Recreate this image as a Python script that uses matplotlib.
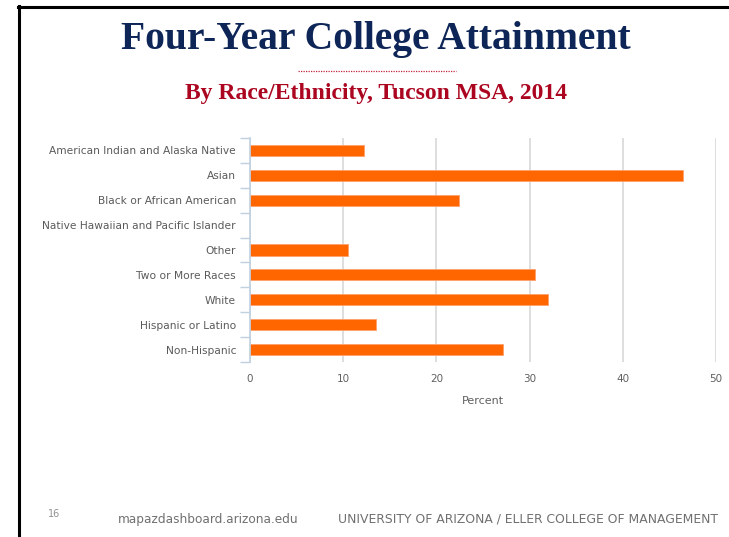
import matplotlib
matplotlib.use("Agg")
import matplotlib.pyplot as plt
from matplotlib.lines import Line2D

categories = [
    "American Indian and Alaska Native",
    "Asian",
    "Black or African American",
    "Native Hawaiian and Pacific Islander",
    "Other",
    "Two or More Races",
    "White",
    "Hispanic or Latino",
    "Non-Hispanic",
]
percent = [12.2, 46.5, 22.4, 0.0, 10.5, 30.6, 32.0, 13.5, 27.1]
x_ticks = [0, 10, 20, 30, 40, 50]

W, H = 729, 537
fig = plt.figure(figsize=(W / 100, H / 100), dpi=100)
fig.patch.set_facecolor("white")

# slide frame (top and left black borders)
fig.add_artist(Line2D([19 / W, 19 / W], [0, 1 - 6 / H], color="black", lw=2.2,
                      transform=fig.transFigure))
fig.add_artist(Line2D([18 / W, 1], [1 - 7 / H, 1 - 7 / H], color="black", lw=2.2,
                      transform=fig.transFigure))

# titles
fig.text(376 / W, 1 - 40 / H, "Four-Year College Attainment", ha="center", va="center",
         fontsize=28.5, fontweight="bold", family="Liberation Serif", color="#0E2557")
fig.add_artist(Line2D([298 / W, 456 / W], [1 - 71 / H, 1 - 71 / H], color="#C0243A",
                      lw=0.9, ls=(0, (1, 1)), transform=fig.transFigure))
fig.text(376 / W, 1 - 93 / H, "By Race/Ethnicity, Tucson MSA, 2014", ha="center", va="center",
         fontsize=17, fontweight="bold", family="Liberation Serif", color="#AB0520")

# chart
ax = fig.add_axes([250 / W, 1 - 362 / H, 466 / W, 224 / H])
ypos = list(range(len(categories)))
edges = [0.6 if v > 0 else 0 for v in percent]
ax.barh(ypos, percent, height=0.45, color="#FF6600", edgecolor="#FF9F6A", linewidth=edges,
        zorder=3)
ax.set_ylim(len(categories) - 0.5, -0.5)
ax.set_xlim(0, 50)
ax.set_xticks(x_ticks)
ax.set_xticklabels([str(t) for t in x_ticks])
ax.set_yticks(ypos)
ax.set_yticklabels(categories)
ax.set_yticks([i - 0.5 for i in range(len(categories) + 1)], minor=True)
ax.tick_params(axis="y", which="major", length=0, pad=10, labelsize=7.7, labelcolor="#5a5a5a")
ax.tick_params(axis="y", which="minor", length=7, color="#C0D0E0", width=1)
ax.tick_params(axis="x", length=0, pad=9, labelsize=7.5, labelcolor="#606060")
ax.grid(axis="x", color="#D8D8D8", lw=1.2, zorder=0)
for s in ["top", "right", "bottom"]:
    ax.spines[s].set_visible(False)
ax.spines["left"].set_color("#C0D0E0")
ax.spines["left"].set_linewidth(1.2)
ax.spines["left"].set_zorder(4)
ax.set_xlabel("Percent", fontsize=8, color="#606060", labelpad=8)

# footer
fig.text(48 / W, 1 - 514 / H, "16", fontsize=7, color="#909090", va="center")
fig.text(118 / W, 1 - 519 / H, "mapazdashboard.arizona.edu", fontsize=8.75, color="#707070",
         va="center")
fig.text(718 / W, 1 - 519 / H, "UNIVERSITY OF ARIZONA / ELLER COLLEGE OF MANAGEMENT",
         fontsize=8.9, color="#707070", va="center", ha="right")

fig.savefig("out.png", dpi=100)
